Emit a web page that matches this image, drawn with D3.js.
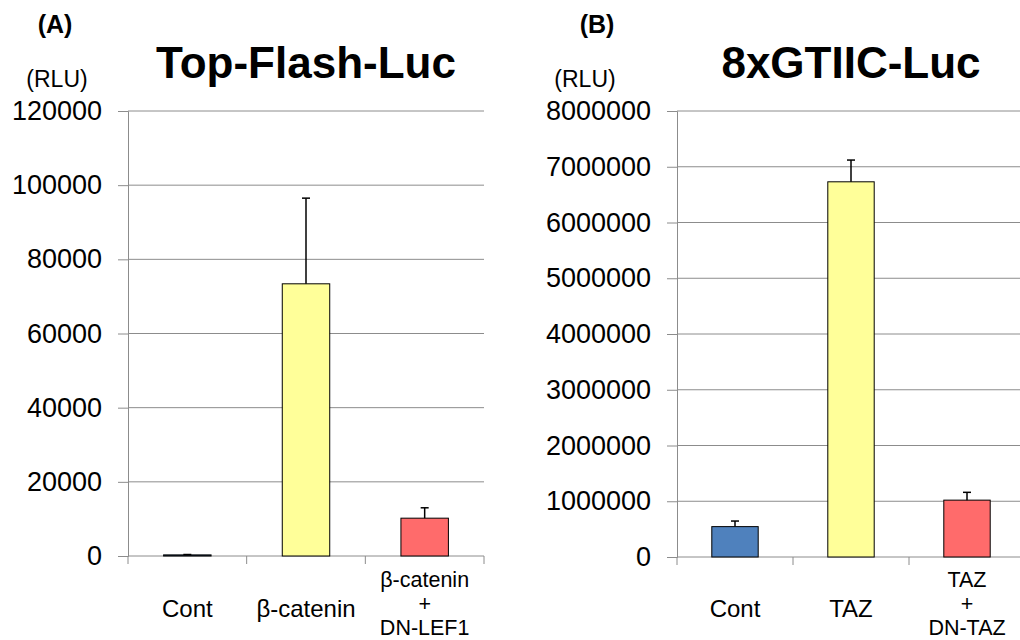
<!DOCTYPE html>
<html>
<head>
<meta charset="utf-8">
<script src="https://cdn.jsdelivr.net/npm/d3@7"></script>
<style>
  html, body { margin: 0; padding: 0; background: #fff; }
  svg { display: block; font-family: "Liberation Sans", Arial, sans-serif; }
</style>
</head>
<body>
<svg id="chart" width="1020" height="640"></svg>
<script>
// Panel A: Top-Flash luciferase reporter
const topFlashCategories = [["Cont"], ["β-catenin"], ["β-catenin", "+", "DN-LEF1"]];
const topFlashMeans = [300, 73400, 10200];
const topFlashErrors = [100, 23100, 2800];
const topFlashTicks = [0, 20000, 40000, 60000, 80000, 100000, 120000];

// Panel B: 8xGTIIC luciferase reporter
const gtiicCategories = [["Cont"], ["TAZ"], ["TAZ", "+", "DN-TAZ"]];
const gtiicMeans = [545000, 6730000, 1020000];
const gtiicErrors = [100000, 390000, 140000];
const gtiicTicks = [0, 1000000, 2000000, 3000000, 4000000, 5000000, 6000000, 7000000, 8000000];

const barColors = ["#4F81BD", "#FFFF99", "#FF6B6B"];

const svg = d3.select("#chart");

function drawPanel(cfg) {
  const g = svg.append("g");
  const x = d3.scaleBand()
    .domain(cfg.categories.map((d, i) => i))
    .range([cfg.left, cfg.right])
    .paddingInner(0.6).paddingOuter(0.3);
  const y = d3.scaleLinear()
    .domain([0, d3.max(cfg.ticks)])
    .range([cfg.bottom, cfg.top]);

  // horizontal gridlines
  g.append("g").selectAll("line")
    .data(cfg.ticks.filter(t => t > 0))
    .join("line")
    .attr("x1", cfg.left).attr("x2", cfg.right)
    .attr("y1", d => y(d)).attr("y2", d => y(d))
    .attr("stroke", "#8c8c8c").attr("stroke-width", 1);

  // y axis
  const yAxis = d3.axisLeft(y).tickValues(cfg.ticks).tickSize(10).tickPadding(16)
    .tickFormat(d3.format("d"));
  const ya = g.append("g").attr("transform", `translate(${cfg.left},0)`).call(yAxis);
  ya.select(".domain").attr("stroke", "#8c8c8c");
  ya.selectAll(".tick line").attr("stroke", "#8c8c8c");
  ya.selectAll(".tick text").attr("font-size", 27).attr("fill", "#000")
    .attr("font-family", "'Liberation Sans', Arial, sans-serif");

  // x axis baseline with ticks at category boundaries
  const bw = x.step();
  const bounds = d3.range(cfg.categories.length + 1).map(i => cfg.left + i * bw);
  g.append("line")
    .attr("x1", cfg.left).attr("x2", cfg.right)
    .attr("y1", y(0)).attr("y2", y(0))
    .attr("stroke", "#8c8c8c");
  g.append("g").selectAll("line").data(bounds).join("line")
    .attr("x1", d => d).attr("x2", d => d)
    .attr("y1", y(0)).attr("y2", y(0) + 8)
    .attr("stroke", "#8c8c8c");

  // bars
  g.append("g").selectAll("rect")
    .data(cfg.means)
    .join("rect")
    .attr("x", (d, i) => x(i))
    .attr("width", x.bandwidth())
    .attr("y", d => y(d))
    .attr("height", d => y(0) - y(d))
    .attr("fill", (d, i) => barColors[i])
    .attr("stroke", "#000").attr("stroke-width", 1);

  // upper error bars
  const eb = g.append("g").attr("stroke", "#000").attr("stroke-width", 1.5);
  cfg.means.forEach((m, i) => {
    const cx = x(i) + x.bandwidth() / 2;
    eb.append("line").attr("x1", cx).attr("x2", cx)
      .attr("y1", y(m)).attr("y2", y(m + cfg.errors[i]));
    eb.append("line").attr("x1", cx - 4).attr("x2", cx + 4)
      .attr("y1", y(m + cfg.errors[i])).attr("y2", y(m + cfg.errors[i]));
  });

  // category labels (stacked lines for combined treatments)
  cfg.categories.forEach((lines, i) => {
    const cx = x(i) + x.bandwidth() / 2;
    const n = lines.length;
    lines.forEach((ln, k) => {
      g.append("text")
        .attr("text-anchor", "middle")
        .attr("font-size", n === 1 ? 24 : 21.5)
        .attr("fill", "#000")
        .attr("x", cx)
        .attr("y", n === 1 ? 617 : 587 + k * 24)
        .text(ln);
    });
  });

  // titles and unit
  g.append("text").attr("x", (cfg.left + cfg.right) / 2).attr("y", 78)
    .attr("text-anchor", "middle").attr("font-size", 44).attr("font-weight", "bold")
    .text(cfg.title);
  g.append("text").attr("x", cfg.letterX).attr("y", 33)
    .attr("text-anchor", "middle").attr("font-size", 25).attr("font-weight", "bold")
    .text(cfg.letter);
  g.append("text").attr("x", cfg.unitX).attr("y", 87)
    .attr("text-anchor", "middle").attr("font-size", 23)
    .text("(RLU)");
}

drawPanel({
  categories: topFlashCategories, means: topFlashMeans, errors: topFlashErrors,
  ticks: topFlashTicks, left: 128, right: 484, top: 111, bottom: 556,
  title: "Top-Flash-Luc", letter: "(A)", letterX: 55, unitX: 57
});
drawPanel({
  categories: gtiicCategories, means: gtiicMeans, errors: gtiicErrors,
  ticks: gtiicTicks, left: 677, right: 1025, top: 111, bottom: 557,
  title: "8xGTIIC-Luc", letter: "(B)", letterX: 597, unitX: 585
});
</script>
</body>
</html>
